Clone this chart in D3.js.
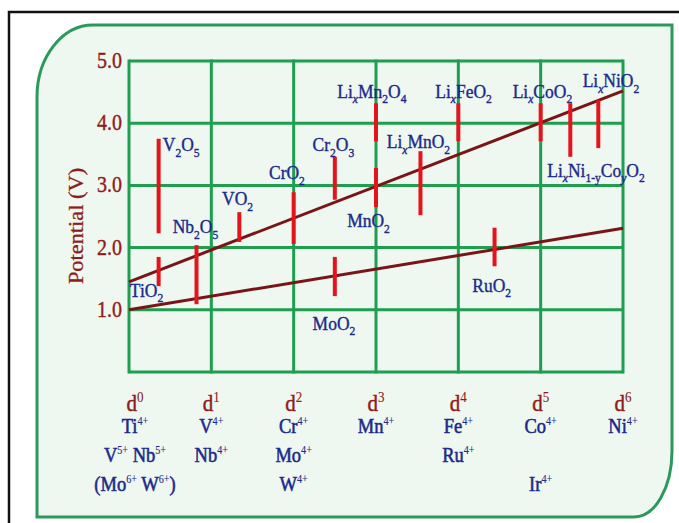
<!DOCTYPE html>
<html><head><meta charset="utf-8">
<script src="https://cdn.jsdelivr.net/npm/d3@7"></script>
<style>html,body{margin:0;padding:0;background:#fff;}svg{display:block;}</style>
</head><body>
<svg id="c" width="679" height="523"></svg>
<script>
// ---- data ----
const dLabels = ["d^{0}","d^{1}","d^{2}","d^{3}","d^{4}","d^{5}","d^{6}"];
const ionRows = [
  ["Ti^{4+}","V^{4+}","Cr^{4+}","Mn^{4+}","Fe^{4+}","Co^{4+}","Ni^{4+}"],
  ["V^{5+} Nb^{5+}","Nb^{4+}","Mo^{4+}","","Ru^{4+}","",""],
  ["(Mo^{6+} W^{6+})","","W^{4+}","","","Ir^{4+}",""]
];
const yTicks = [1,2,3,4,5];
const compounds = ["TiO2","V2O5","Nb2O5","VO2","CrO2","Cr2O3","MnO2","LixMn2O4","LixMnO2","LixFeO2","MoO2","RuO2","LixCoO2","LixNi1-yCoyO2","LixNiO2"];
const barD    = [0.36,0.36,0.82,1.34,2.0,2.5,3.0,3.0,3.54,4.0,2.5,4.44,5.0,5.36,5.7];
const barLow  = [1.38,2.23,1.09,2.09,2.06,2.77,2.65,3.71,2.52,3.71,1.22,1.70,3.71,3.46,3.60];
const barHigh = [1.85,3.75,2.04,2.57,2.89,3.46,3.28,4.32,3.55,4.32,1.85,2.32,4.32,4.32,4.37];
const labelText = ["TiO_{2}","V_{2}O_{5}","Nb_{2}O_{5}","VO_{2}","CrO_{2}","Cr_{2}O_{3}","MnO_{2}","Li_{x}Mn_{2}O_{4}","Li_{x}MnO_{2}","Li_{x}FeO_{2}","MoO_{2}","RuO_{2}","Li_{x}CoO_{2}","Li_{x}Ni_{1-y}Co_{y}O_{2}","Li_{x}NiO_{2}"];
const labelD = [0.01,0.41,0.53,1.13,1.70,2.23,2.65,2.53,3.13,3.72,2.23,4.17,4.66,5.08,5.51];
const labelV = [1.21,3.55,2.23,2.68,3.10,3.55,2.33,4.41,3.60,4.41,0.68,1.29,4.41,3.14,4.58];
const upperLine = [{d:0,v:1.45},{d:6,v:4.52}];
const lowerLine = [{d:0,v:1.0},{d:6,v:2.31}];

// ---- drawing ----
const svg = d3.select("#c");
const W=679,H=523;
const x = d3.scaleLinear().domain([0,6]).range([129,623]);
const y = d3.scaleLinear().domain([0,5]).range([372,61]);
const SERIF = "'Liberation Serif','Times New Roman',serif";
const RED_T = "#8e1c1c", BLUE_T = "#1b2a8a", GREEN="#1f9e4f";

// outer border
svg.append("path").attr("d",`M9,${H} L9,12 L${W},12`).attr("fill","none").attr("stroke","#111").attr("stroke-width",2.5);
// panel
const L=37,T=25,R=672,B=517, trx=56, try_=72, brx=38, bry=66;
svg.append("path")
  .attr("d",`M${L},${T+try_} A${trx},${try_} 0 0 1 ${L+trx},${T} L${R},${T} L${R},${B-bry} A${brx},${bry} 0 0 1 ${R-brx},${B} L${L},${B} Z`)
  .attr("fill","#eef7f0").attr("stroke","#2a9a5c").attr("stroke-width",3);

// rich text helper
function rich(sel, str, px, py, size, color, anchor, opts){
  opts = opts||{};
  const g = sel.append("text")
    .attr("transform",`translate(${px},${py}) scale(1,${opts.sy||1.13})`)
    .attr("font-family",SERIF).attr("font-size",size).attr("fill",color)
    .attr("stroke",color).attr("stroke-width",opts.sw==null?0.35:opts.sw)
    .attr("font-weight",opts.bold?"bold":"normal")
    .attr("text-anchor",anchor||"start");
  const parts = str.split(/(_\{[^}]*\}|\^\{[^}]*\})/).filter(s=>s.length);
  let cur=0;
  parts.forEach(p=>{
    let shift=0, txt=p, fs=size, it=false;
    if(p.startsWith("_{")){ shift=size*0.28; txt=p.slice(2,-1); fs=size*0.66; it=/^[xy]$/.test(txt);}
    else if(p.startsWith("^{")){ shift=-size*0.38; txt=p.slice(2,-1); fs=size*(opts.supScale||0.58); }
    const t = g.append("tspan").attr("dy",shift-cur).attr("font-size",fs).text(txt);
    if(it) t.attr("font-style","italic");
    if(p.startsWith("^{")) t.attr("stroke-width",0.1).attr("font-weight","normal");
    cur=shift;
  });
  return g;
}

// grid
const grid = svg.append("g").attr("stroke",GREEN).attr("stroke-width",3);
d3.range(0,7).forEach(i=>grid.append("line").attr("x1",x(i)).attr("x2",x(i)).attr("y1",y(0)+1.5).attr("y2",y(5)-1.5));
d3.range(0,6).forEach(v=>grid.append("line").attr("x1",x(0)).attr("x2",x(6)).attr("y1",y(v)).attr("y2",y(v)));

// y ticks
yTicks.forEach(v=>rich(svg, d3.format(".1f")(v), 122, y(v)+7, 20, RED_T, "end"));
// y label
svg.append("text").attr("transform",`translate(83,226) rotate(-90) scale(1.12,1)`)
  .attr("font-family",SERIF).attr("font-size",20).attr("fill",RED_T).attr("stroke",RED_T).attr("stroke-width",0.3)
  .attr("text-anchor","middle").text("Potential (V)");

// lines
const lg = d3.line().x(p=>x(p.d)).y(p=>y(p.v));
[upperLine,lowerLine].forEach(l=>svg.append("path").attr("d",lg(l)).attr("fill","none").attr("stroke","#7a1517").attr("stroke-width",3));

// bars
compounds.forEach((c,i)=>{
  svg.append("line").attr("x1",x(barD[i])).attr("x2",x(barD[i])).attr("y1",y(barLow[i])).attr("y2",y(barHigh[i]))
    .attr("stroke","#e5141c").attr("stroke-width",4);
});
// compound labels
compounds.forEach((c,i)=>rich(svg, labelText[i], x(labelD[i]), y(labelV[i]), 17.5, BLUE_T, "start"));

// bottom labels
const rowY = [411,433,462,491];
const colX = i => x(i) + (i===0?6:0);
dLabels.forEach((t,i)=>rich(svg, t, colX(i), rowY[0], 21, RED_T, "middle", {sw:0.4, supScale:0.62}));
ionRows.forEach((row,r)=>row.forEach((t,i)=>{ if(t) rich(svg, t, colX(i), rowY[r+1], 18.5, BLUE_T, "middle", {sw:0.5, supScale:0.55}); }));
</script>
</body></html>
